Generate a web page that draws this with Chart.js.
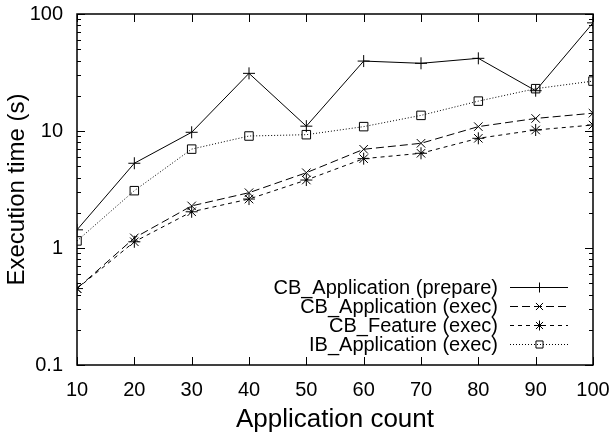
<!DOCTYPE html>
<html>
<head>
<meta charset="utf-8">
<script src="https://cdn.jsdelivr.net/npm/chart.js@4/dist/chart.umd.min.js"></script>
<style>
  html, body { margin: 0; padding: 0; background: #fff; }
  #wrap { width: 614px; height: 437px; }
</style>
</head>
<body>
<div id="wrap"><canvas id="chart"></canvas></div>
<script>
// data
var appCounts = [10, 20, 30, 40, 50, 60, 70, 80, 90, 100];
var cbAppPrepare = [1.43, 5.3, 9.75, 31.1, 11.0, 39.6, 37.9, 41.8, 22.1, 84];
var cbAppExec = [0.45, 1.22, 2.29, 2.97, 4.4, 6.98, 7.85, 10.9, 12.8, 14.2];
var cbFeatureExec = [0.45, 1.13, 2.04, 2.62, 3.81, 5.8, 6.45, 8.66, 10.2, 11.25];
var ibAppExec = [1.15, 3.09, 7.0, 9.06, 9.3, 10.9, 13.6, 18.0, 23.0, 26.7];
var yTicks = [0.1, 1, 10, 100];

var FONT = "'Liberation Sans', Arial, Helvetica, sans-serif";

function pts(vals) {
    return appCounts.map(function (x, i) { return { x: x, y: vals[i] }; });
}

function series(label, vals, dash, style, size) {
    return {
        label: label,
        data: pts(vals),
        borderColor: '#000',
        backgroundColor: 'rgba(0,0,0,0)',
        borderWidth: 1,
        borderDash: dash,
        pointStyle: style,
        pointRadius: size,
        pointBorderColor: '#000',
        pointBorderWidth: 1,
        pointBackgroundColor: 'rgba(0,0,0,0)',
        tension: 0
    };
}

// gnuplot-like frame, inward ticks and legend
var framePlugin = {
    id: 'frame',
    afterDatasetsDraw: function (chart) {
        var ctx = chart.ctx;
        var a = chart.chartArea;
        var xs = chart.scales.x, ys = chart.scales.y;
        ctx.save();
        ctx.strokeStyle = '#000';
        ctx.lineWidth = 1.5;
        ctx.setLineDash([]);
        ctx.strokeRect(a.left, a.top, a.right - a.left, a.bottom - a.top);
        ctx.lineWidth = 1;
        ctx.beginPath();
        appCounts.forEach(function (v) {
            var px = Math.round(xs.getPixelForValue(v)) + 0.5;
            ctx.moveTo(px, a.bottom); ctx.lineTo(px, a.bottom - 8);
            ctx.moveTo(px, a.top); ctx.lineTo(px, a.top + 8);
        });
        for (var d = 0.1; d < 100; d *= 10) {
            for (var m = 1; m <= 10; m++) {
                var v = d * m;
                if (v > 100.0001) break;
                var py = Math.round(ys.getPixelForValue(v)) + 0.5;
                var len = (m === 1 || m === 10) ? 8 : 4;
                ctx.moveTo(a.left, py); ctx.lineTo(a.left + len, py);
                ctx.moveTo(a.right, py); ctx.lineTo(a.right - len, py);
            }
        }
        ctx.stroke();

        // legend
        var sets = chart.data.datasets;
        var rowH = 19;
        var sampleR = a.right - 25, sampleL = sampleR - 58;
        var textR = sampleL - 12;
        ctx.font = '20px ' + FONT;
        ctx.textAlign = 'right';
        ctx.textBaseline = 'middle';
        sets.forEach(function (ds, i) {
            var cy = Math.round(a.bottom - 21 - (sets.length - 1 - i) * rowH) + 0.5;
            ctx.fillStyle = '#000';
            ctx.fillText(ds.label, textR, cy + 1);
            ctx.setLineDash(ds.borderDash);
            ctx.beginPath();
            ctx.moveTo(sampleL, cy);
            ctx.lineTo(sampleR, cy);
            ctx.stroke();
            ctx.setLineDash([]);
            ctx.fillStyle = 'rgba(0,0,0,0)';
            Chart.helpers.drawPoint(ctx, {
                pointStyle: ds.pointStyle, radius: 5, borderWidth: 1
            }, Math.round((sampleL + sampleR) / 2) + 0.5, cy);
        });
        ctx.restore();
    }
};

new Chart(document.getElementById('chart').getContext('2d'), {
    type: 'line',
    data: {
        datasets: [
            series('CB_Application (prepare)', cbAppPrepare, [], 'cross', 6),
            series('CB_Application (exec)', cbAppExec, [8, 4], 'crossRot', 6),
            series('CB_Feature (exec)', cbFeatureExec, [4, 4], 'star', 6),
            series('IB_Application (exec)', ibAppExec, [1, 2], 'rect', 6)
        ]
    },
    options: {
        responsive: true,
        maintainAspectRatio: false,
        animation: false,
        layout: { padding: { top: 14, right: 21, left: 0, bottom: 0 } },
        plugins: { legend: { display: false }, tooltip: { enabled: false } },
        scales: {
            x: {
                type: 'linear',
                min: 10, max: 100,
                grid: { display: false, drawTicks: false },
                border: { display: false },
                ticks: {
                    stepSize: 10, color: '#000', padding: 13,
                    font: { family: FONT, size: 20 }
                },
                title: {
                    display: true, text: 'Application count', color: '#000',
                    font: { family: FONT, size: 26 }, padding: { top: 0, bottom: 2 }
                },
                afterFit: function (scale) {
                    scale.height = 72;
                    scale.paddingLeft = 0;
                    scale.paddingRight = 0;
                }
            },
            y: {
                type: 'logarithmic',
                min: 0.1, max: 100,
                afterBuildTicks: function (scale) {
                    scale.ticks = yTicks.map(function (v) { return { value: v }; });
                },
                grid: { display: false, drawTicks: false },
                border: { display: false },
                ticks: {
                    color: '#000', padding: 14,
                    font: { family: FONT, size: 20 },
                    callback: function (v) { return String(v); }
                },
                title: {
                    display: true, text: 'Execution time (s)', color: '#000',
                    font: { family: FONT, size: 24 }, padding: { top: 3, bottom: 0 }
                },
                afterFit: function (scale) {
                    scale.width = 77;
                    scale.paddingTop = 0;
                    scale.paddingBottom = 0;
                }
            }
        }
    },
    plugins: [framePlugin]
});
</script>
</body>
</html>
